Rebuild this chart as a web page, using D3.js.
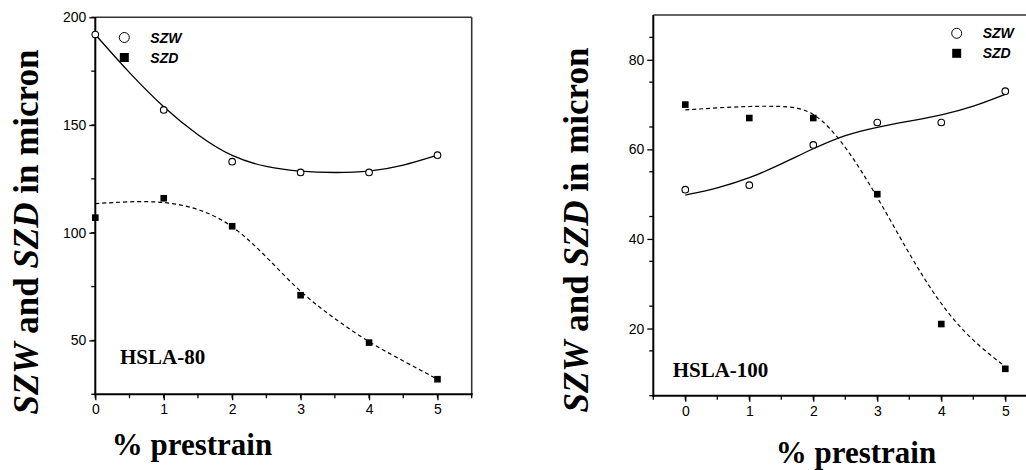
<!DOCTYPE html>
<html lang="en">
<head>
  <meta charset="utf-8">
  <title>SZW / SZD vs prestrain</title>
  <script src="https://cdn.jsdelivr.net/npm/d3@7"></script>
  <style>
    * { margin: 0; padding: 0; }
    body { background: #fff; }
    .tick text { font-family: "Liberation Sans", Arial, sans-serif; font-size: 14px; fill: #000; }
    .ttl { font-family: "Liberation Serif", "Times New Roman", serif; font-weight: bold; fill: #000; }
    .leg { font-family: "Liberation Sans", Arial, sans-serif; font-weight: bold; font-style: italic; font-size: 14px; }
  </style>
</head>
<body>
<div id="chart"></div>
<script>
  // measured points
  var prestrain = [0, 1, 2, 3, 4, 5];
  var szw80 = [192, 157, 133, 128, 128, 136];
  var szd80 = [107, 116, 103, 71, 49, 32];
  var szw100 = [51, 52, 61, 66, 66, 73];
  var szd100 = [70, 67, 67, 50, 21, 11];

  // fitted curves, every 0.5 %
  var fitX = [0, 0.5, 1, 1.5, 2, 2.5, 3, 3.5, 4, 4.5, 5];
  var szw80Fit = [192, 174, 158, 145, 135, 130.3, 128.3, 127.8, 128.2, 131, 136];
  var szd80Fit = [113.5, 114.5, 114.5, 111.5, 104, 89, 72, 60, 49, 40.5, 32];
  var szw100Fit = [49.8, 51.3, 53.5, 56.7, 60.2, 63.3, 65, 66.3, 67.6, 69.5, 72.3];
  var szd100Fit = [68.8, 69.3, 69.6, 69.7, 69, 61, 49.5, 36.5, 25, 17, 11.5];

  var xTicks = [0, 1, 2, 3, 4, 5];
  var yTicks80 = [50, 100, 150, 200];
  var yTicks100 = [20, 40, 60, 80];

  var svg = d3.select("#chart").append("svg")
      .attr("width", 1026)
      .attr("height", 470);

  function panel(o) {
    var x = d3.scaleLinear().domain(o.xDom).range([o.left, o.right]);
    var y = d3.scaleLinear().domain(o.yDom).range([o.bottom, o.top]);
    var g = svg.append("g");

    // minor ticks
    var xMinor = d3.range(o.xDom[0], o.xDom[1] + 0.01, 0.5);
    g.selectAll(".xm").data(xMinor).enter().append("line")
        .attr("x1", d => x(d)).attr("x2", d => x(d))
        .attr("y1", o.bottom).attr("y2", o.bottom + 4)
        .attr("stroke", "#000").attr("stroke-width", 1.3);
    var yMinor = d3.range(o.yDom[0], o.yDom[1] + 0.01, o.yMinor);
    g.selectAll(".ym").data(yMinor).enter().append("line")
        .attr("x1", o.left - 4).attr("x2", o.left)
        .attr("y1", d => y(d)).attr("y2", d => y(d))
        .attr("stroke", "#000").attr("stroke-width", 1.3);

    var xAxis = g.append("g")
        .attr("transform", "translate(0," + o.bottom + ")")
        .call(d3.axisBottom(x).tickValues(xTicks).tickSize(6).tickPadding(4).tickFormat(d3.format("d")));
    var yAxis = g.append("g")
        .attr("transform", "translate(" + o.left + ",0)")
        .call(d3.axisLeft(y).tickValues(o.yTicks).tickSize(6).tickPadding(3).tickFormat(d3.format("d")));
    [xAxis, yAxis].forEach(function (a) {
      a.select(".domain").remove();
      a.selectAll("line").attr("stroke", "#000").attr("stroke-width", 1.3);
    });

    // frame
    g.append("line").attr("x1", o.left).attr("x2", o.right).attr("y1", o.top).attr("y2", o.top)
        .attr("stroke", "#333").attr("stroke-width", 1.6);
    g.append("line").attr("x1", o.right).attr("x2", o.right).attr("y1", o.top).attr("y2", o.bottom)
        .attr("stroke", "#333").attr("stroke-width", 1.6);
    g.append("line").attr("x1", o.left).attr("x2", o.left).attr("y1", o.top).attr("y2", o.bottom + 1)
        .attr("stroke", "#000").attr("stroke-width", 2);
    g.append("line").attr("x1", o.left - 1).attr("x2", o.right + 1).attr("y1", o.bottom).attr("y2", o.bottom)
        .attr("stroke", "#000").attr("stroke-width", 2);

    var line = d3.line().x(d => x(d[0])).y(d => y(d[1])).curve(d3.curveBasis);
    g.append("path").datum(d3.zip(fitX, o.szwFit)).attr("d", line)
        .attr("fill", "none").attr("stroke", "#000").attr("stroke-width", 1.3);
    g.append("path").datum(d3.zip(fitX, o.szdFit)).attr("d", line)
        .attr("fill", "none").attr("stroke", "#000").attr("stroke-width", 1.2)
        .attr("stroke-dasharray", "4,3");

    g.selectAll(".pw").data(d3.zip(prestrain, o.szw)).enter().append("circle")
        .attr("cx", d => x(d[0])).attr("cy", d => y(d[1])).attr("r", 3.3)
        .attr("fill", "#fff").attr("stroke", "#000").attr("stroke-width", 1.1);
    g.selectAll(".pd").data(d3.zip(prestrain, o.szd)).enter().append("rect")
        .attr("x", d => x(d[0]) - 3.3).attr("y", d => y(d[1]) - 3.3)
        .attr("width", 6.6).attr("height", 6.6).attr("fill", "#000");

    // legend
    g.append("circle").attr("cx", o.legX).attr("cy", o.legY).attr("r", 5)
        .attr("fill", "#fff").attr("stroke", "#000").attr("stroke-width", 1);
    g.append("rect").attr("x", o.legX - 4.5).attr("y", o.legY + 15.5).attr("width", 9).attr("height", 9)
        .attr("fill", "#000");
    g.append("text").attr("class", "leg").attr("x", o.legX + 26).attr("y", o.legY + 5).text("SZW");
    g.append("text").attr("class", "leg").attr("x", o.legX + 26).attr("y", o.legY + 25).text("SZD");

    g.append("text").attr("class", "ttl").attr("x", o.tagX).attr("y", o.tagY)
        .style("font-size", "21px").text(o.tag);

    var yt = g.append("text").attr("class", "ttl")
        .attr("transform", "translate(" + o.yTitleX + "," + o.yTitleY + ") rotate(-90)")
        .attr("text-anchor", "middle").style("font-size", "35px");
    yt.append("tspan").style("font-style", "italic").text("SZW");
    yt.append("tspan").text(" and ");
    yt.append("tspan").style("font-style", "italic").text("SZD");
    yt.append("tspan").text(" in micron");

    g.append("text").attr("class", "ttl").attr("x", o.xTitleX).attr("y", o.xTitleY)
        .attr("text-anchor", "middle").style("font-size", "31px").text("% prestrain");
  }

  panel({
    left: 95.3, right: 471.7, top: 17.3, bottom: 394.3,
    xDom: [0, 5.5], yDom: [25, 200], yMinor: 25, yTicks: yTicks80,
    szw: szw80, szd: szd80, szwFit: szw80Fit, szdFit: szd80Fit,
    legX: 124.3, legY: 37.5, tag: "HSLA-80", tagX: 120, tagY: 364,
    yTitleX: 38, yTitleY: 232, xTitleX: 192, xTitleY: 455
  });

  panel({
    left: 653.3, right: 1037.3, top: 15, bottom: 395.7,
    xDom: [-0.5, 5.5], yDom: [5, 90], yMinor: 10, yTicks: yTicks100,
    szw: szw100, szd: szd100, szwFit: szw100Fit, szdFit: szd100Fit,
    legX: 956.7, legY: 33.3, tag: "HSLA-100", tagX: 672.7, tagY: 377,
    yTitleX: 588, yTitleY: 230, xTitleX: 856, xTitleY: 463
  });
</script>
</body>
</html>
